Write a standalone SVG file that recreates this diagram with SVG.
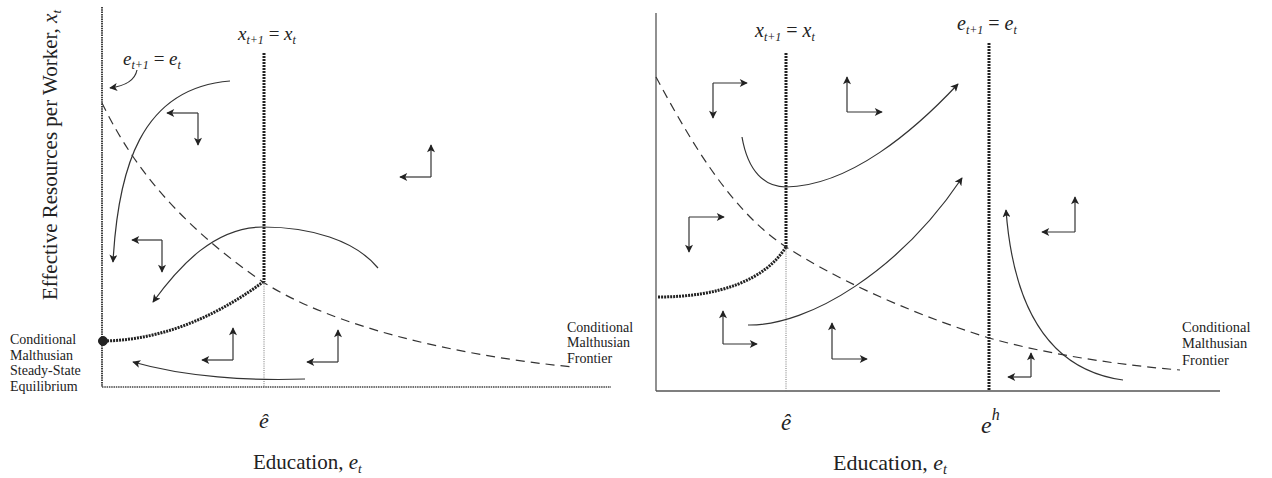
<svg xmlns="http://www.w3.org/2000/svg" width="1272" height="478" viewBox="0 0 1272 478">
<style>
.t{font-family:"Liberation Serif","Times New Roman",serif;fill:#222}
.it{font-style:italic}
.up{font-style:normal}
.small{font-size:14px}
.ln{fill:none;stroke:#333;stroke-width:1.2}
.ar{fill:none;stroke:#333;stroke-width:1.2;marker-end:url(#ah)}
.dash{fill:none;stroke:#333;stroke-width:1.2;stroke-dasharray:9 6}
.thick{fill:none;stroke:#222;stroke-width:3;stroke-dasharray:2 1}
.axd{fill:none;stroke:#222;stroke-width:1.7;stroke-dasharray:1.5 0.8}
.axs{fill:none;stroke:#555;stroke-width:1.3}
.thin{fill:none;stroke:#777;stroke-width:1;stroke-dasharray:1 1.2}
</style>
<defs>
<marker id="ah" viewBox="0 0 10 10" refX="9" refY="5" markerWidth="11" markerHeight="8" markerUnits="userSpaceOnUse" orient="auto">
<path d="M0,0 L10,5 L0,10 L2.5,5 z" fill="#222"/>
</marker>
</defs>
<rect width="1272" height="478" fill="#fff"/>

<!-- LEFT PANEL -->
<g id="left-axes">
<path class="axd" d="M102,7 L102,387"/>
<path class="axd" d="M102,387 L611,387" style="stroke:#444"/>
<path class="thick" d="M264,53 L264,282"/>
<path class="thin" d="M264,282 L264,387"/>
</g>
<g id="left-curves">
<path class="dash" d="M102,103 C125,150 165,215 263,282 C330,325 450,355 573,367"/>
<path class="thick" d="M104,341 C170,340 225,310 263,282"/>
<path class="ar" d="M230,81 C140,88 118,170 113,262"/>
<path class="ar" d="M378,268 C355,240 310,227 263,227 C215,227 180,265 153,302"/>
<path class="ar" d="M305,379 C250,381 185,377 133,362"/>
<path class="ar" d="M137,70 C135,80 125,86 110,88"/>
<circle cx="103" cy="341" r="4.5" fill="#222" stroke="#222" stroke-width="1"/>
</g>
<g id="left-phase-arrows">
<path class="ar" d="M198,113 L167,113"/><path class="ar" d="M198,113 L198,145"/>
<path class="ar" d="M162,240 L132,240"/><path class="ar" d="M162,240 L162,272"/>
<path class="ar" d="M233,360 L202,360"/><path class="ar" d="M233,360 L233,328"/>
<path class="ar" d="M338,362 L307,362"/><path class="ar" d="M338,362 L338,330"/>
<path class="ar" d="M431,177 L400,177"/><path class="ar" d="M431,177 L431,145"/>
</g>
<g id="left-labels">
<text class="t" font-size="21" transform="translate(57,155) rotate(-90)" text-anchor="middle">Effective Resources per Worker, <tspan class="it">x</tspan><tspan class="it" font-size="13" dy="4">t</tspan></text>
<text class="t it" x="238" y="40" font-size="19">x<tspan font-size="12" dy="4">t+1</tspan><tspan class="up" dy="-4"> = </tspan>x<tspan font-size="12" dy="4">t</tspan></text>
<text class="t it" x="123" y="65" font-size="19">e<tspan font-size="12" dy="4">t+1</tspan><tspan class="up" dy="-4"> = </tspan>e<tspan font-size="12" dy="4">t</tspan></text>
<text class="t small" x="10" y="344">Conditional</text>
<text class="t small" x="10" y="360">Malthusian</text>
<text class="t small" x="10" y="375">Steady-State</text>
<text class="t small" x="10" y="391">Equilibrium</text>
<text class="t small" x="567" y="332">Conditional</text>
<text class="t small" x="567" y="347">Malthusian</text>
<text class="t small" x="567" y="363">Frontier</text>
<text class="t it" x="264" y="428" font-size="22" text-anchor="middle">ê</text>
<text class="t" x="253" y="469" font-size="21">Education, <tspan class="it">e</tspan><tspan class="it" font-size="13" dy="4">t</tspan></text>
</g>

<!-- RIGHT PANEL -->
<g id="right-axes">
<path class="axs" d="M656,13 L656,391"/>
<path class="axs" d="M656,391 L1220,391"/>
<path class="thick" d="M786,53 L786,247"/>
<path class="thin" d="M786,247 L786,391"/>
<path class="thick" d="M989,43 L989,391"/>
</g>
<g id="right-curves">
<path class="dash" d="M656,77 C690,140 730,210 786,247 C830,275 900,310 989,338 C1050,355 1120,365 1180,370"/>
<path class="thick" d="M658,297 C720,297 765,280 786,247"/>
<path class="ar" d="M742,137 C748,172 765,187 786,187 C850,186 915,130 958,84"/>
<path class="ar" d="M748,325 C810,326 900,270 962,178"/>
<path class="ar" d="M1123,380 C1065,372 1015,330 1006,210"/>
</g>
<g id="right-phase-arrows">
<path class="ar" d="M713,83 L747,83"/><path class="ar" d="M713,83 L713,118"/>
<path class="ar" d="M847,112 L882,112"/><path class="ar" d="M847,112 L847,77"/>
<path class="ar" d="M689,217 L724,217"/><path class="ar" d="M689,217 L689,252"/>
<path class="ar" d="M723,344 L757,344"/><path class="ar" d="M723,344 L723,311"/>
<path class="ar" d="M832,359 L867,359"/><path class="ar" d="M832,359 L832,323"/>
<path class="ar" d="M1075,232 L1042,232"/><path class="ar" d="M1075,232 L1075,197"/>
<path class="ar" d="M1031,377 L1008,377"/><path class="ar" d="M1031,377 L1031,353"/>
</g>
<g id="right-labels">
<text class="t it" x="755" y="37" font-size="20">x<tspan font-size="12" dy="4">t+1</tspan><tspan class="up" dy="-4"> = </tspan>x<tspan font-size="12" dy="4">t</tspan></text>
<text class="t it" x="957" y="30" font-size="20">e<tspan font-size="12" dy="4">t+1</tspan><tspan class="up" dy="-4"> = </tspan>e<tspan font-size="12" dy="4">t</tspan></text>
<text class="t" x="1182" y="332" font-size="14.5">Conditional</text>
<text class="t" x="1182" y="348" font-size="14.5">Malthusian</text>
<text class="t" x="1182" y="365" font-size="14.5">Frontier</text>
<text class="t it" x="786" y="430" font-size="23" text-anchor="middle">ê</text>
<text class="t it" x="981" y="433" font-size="24">e<tspan font-size="16" dy="-13">h</tspan></text>
<text class="t" x="833" y="470" font-size="22">Education, <tspan class="it">e</tspan><tspan class="it" font-size="14" dy="4">t</tspan></text>
</g>
</svg>
